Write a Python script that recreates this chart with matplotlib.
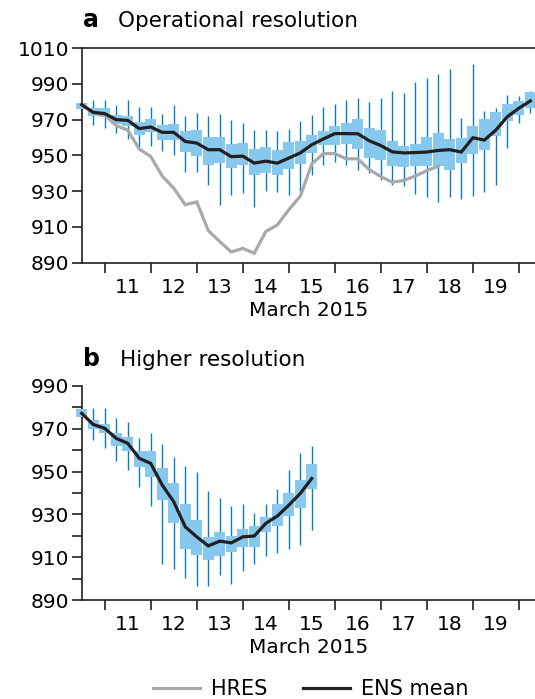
import matplotlib
matplotlib.use("Agg")
import matplotlib.pyplot as plt
from matplotlib.lines import Line2D
import numpy as np

plt.rcParams['font.family'] = ['DejaVu Sans']

# ---------------- data: panel a (operational resolution) ----------------
times_a = [10.5 + 0.25 * i for i in range(40)]
ens_mean_a = [978.4, 974.1, 973.4, 970.0, 969.6, 965.0, 965.9, 962.9, 962.9, 957.8,
              956.9, 953.2, 953.2, 949.3, 949.6, 945.7, 946.8, 945.7, 948.5, 951.4,
              956.0, 959.2, 962.2, 962.2, 962.1, 958.2, 955.5, 952.0, 951.4, 951.6,
              951.9, 952.8, 953.2, 951.9, 959.9, 958.6, 964.2, 971.7, 976.4, 980.5]
whis_hi_a = [979.3, 981.2, 981.2, 978.4, 981.2, 977.1, 977.1, 973.2, 978.4, 972.2,
             973.7, 972.0, 973.0, 970.0, 968.0, 964.5, 964.0, 963.5, 965.0, 969.1,
             972.8, 976.9, 979.0, 981.0, 982.0, 980.0, 982.0, 985.9, 984.9, 991.3,
             993.1, 995.5, 998.3, 970.9, 1001.0, 975.0, 976.8, 983.9, 983.0, 986.2]
q3_a = [979.3, 976.5, 976.5, 972.8, 971.9, 968.5, 970.4, 967.2, 967.8, 963.5,
        964.4, 960.2, 960.2, 956.3, 957.0, 953.6, 954.6, 953.2, 957.3, 957.9,
        961.6, 963.5, 966.3, 968.1, 970.4, 965.3, 964.4, 957.9, 955.4, 956.5,
        960.3, 962.3, 959.0, 960.0, 966.4, 970.1, 974.4, 978.5, 980.7, 985.5]
q1_a = [976.0, 972.2, 971.5, 967.8, 966.6, 961.6, 962.9, 958.4, 958.4, 951.7,
        949.4, 944.8, 945.7, 942.9, 944.8, 939.2, 940.0, 939.2, 942.6, 945.2,
        951.3, 956.0, 956.0, 956.4, 953.4, 948.5, 947.6, 944.0, 943.8, 944.0,
        944.0, 944.0, 942.0, 945.5, 950.8, 953.3, 960.7, 969.2, 972.8, 976.6]
whis_lo_a = [976.0, 967.0, 965.3, 962.5, 959.2, 953.2, 955.1, 952.2, 950.4, 941.0,
             941.0, 933.4, 922.4, 928.0, 929.0, 921.0, 930.3, 929.8, 928.0, 930.0,
             939.0, 944.8, 946.6, 944.8, 942.0, 940.1, 936.5, 933.6, 933.0, 928.4,
             926.6, 923.8, 926.6, 925.7, 927.5, 929.3, 933.6, 954.0, 968.3, 973.7]

times_hres = [10.5 + 0.25 * i for i in range(32)]
hres_a = [978.4, 974.0, 972.6, 966.7, 964.2, 953.6, 949.4, 938.4, 931.7, 922.4,
          924.0, 908.0, 901.8, 896.0, 898.0, 895.3, 907.4, 911.1, 919.6, 927.2,
          945.2, 951.0, 951.0, 948.1, 948.1, 942.0, 938.2, 935.0, 936.0, 938.5,
          941.5, 944.0]

# ---------------- data: panel b (higher resolution) ----------------
times_b = [10.5 + 0.25 * i for i in range(21)]
ens_mean_b = [977.2, 972.0, 970.2, 965.5, 963.2, 956.2, 953.8, 943.7, 935.9, 924.2,
              919.5, 915.3, 917.5, 916.7, 919.5, 919.9, 925.8, 929.2, 934.3, 939.8, 946.8]
whis_hi_b = [979.2, 979.8, 979.8, 974.8, 973.0, 965.8, 967.8, 962.7, 956.9, 952.7,
             949.6, 940.9, 937.8, 933.9, 934.8, 930.8, 934.8, 941.8, 950.7, 958.8, 961.9]
q3_b = [979.2, 974.1, 972.0, 968.1, 966.3, 959.6, 959.6, 951.5, 944.5, 934.7,
        927.6, 919.5, 921.6, 920.0, 923.1, 924.5, 928.6, 934.8, 940.1, 946.0, 953.5]
q1_b = [975.6, 969.7, 967.8, 962.1, 959.6, 952.3, 947.6, 936.5, 925.8, 913.6,
        911.0, 908.6, 910.5, 912.3, 914.9, 914.8, 921.6, 924.5, 929.4, 933.1, 941.7]
whis_lo_b = [975.6, 964.7, 960.8, 954.9, 950.7, 942.9, 933.9, 906.8, 904.7, 900.1,
             896.6, 896.6, 901.6, 897.7, 903.7, 906.8, 910.7, 911.8, 913.8, 915.7, 922.7]

day_ticks = list(range(11, 21))
day_labels = [str(d) for d in range(11, 20)]
day_label_pos = [d + 0.5 for d in range(11, 20)]

BOX = '#86c8ee'
WHISK = '#0a7cc6'
ENS = '#231f20'
HRES = '#a7a9ac'
FS = 14.5

fig = plt.figure(figsize=(5.35, 6.99), dpi=100)
axa = fig.add_axes([0.1527, 0.6242, 0.8473, 0.3069])
axb = fig.add_axes([0.1527, 0.1416, 0.8473, 0.3063])


def draw_panel(ax, t, lo, q1, q3, hi, mean, width=0.235):
    ax.vlines(t, lo, hi, color=WHISK, lw=1.0, zorder=2, clip_on=False)
    ax.bar(t, np.array(q3) - np.array(q1), bottom=q1, width=width,
           color=BOX, edgecolor='none', zorder=3, clip_on=False)
    ax.plot(t, mean, color=ENS, lw=2.3, zorder=5, clip_on=False,
            solid_joinstyle='miter')


def style(ax, ylim, yticks, minor=None):
    ax.set_xlim(10.5, 20.35)
    ax.set_ylim(*ylim)
    ax.spines['right'].set_visible(False)
    for s in ['left', 'bottom', 'top']:
        ax.spines[s].set_linewidth(1.2)
        ax.spines[s].set_color('#231f20')
    ax.set_xticks(day_ticks)
    ax.set_xticklabels([])
    ax.set_xticks(day_label_pos, minor=True)
    ax.set_xticklabels(day_labels, minor=True, fontsize=FS)
    ax.tick_params(axis='x', which='major', direction='out', length=7, width=1.2,
                   color='#231f20')
    ax.tick_params(axis='x', which='minor', length=0, pad=11)
    ax.set_yticks(yticks)
    ax.set_yticklabels([str(v) for v in yticks], fontsize=FS)
    if minor is not None:
        ax.set_yticks(minor, minor=True)
    ax.tick_params(axis='y', which='both', direction='out', length=7, width=1.2,
                   color='#231f20', pad=2)
    ax.set_xlabel('March 2015', fontsize=FS, labelpad=3)


draw_panel(axa, times_a, whis_lo_a, q1_a, q3_a, whis_hi_a, ens_mean_a)
axa.plot(times_hres, hres_a, color=HRES, lw=2.3, zorder=4, solid_joinstyle='miter')
style(axa, (890, 1010), list(range(890, 1011, 20)))

draw_panel(axb, times_b, whis_lo_b, q1_b, q3_b, whis_hi_b, ens_mean_b)
style(axb, (890, 990), list(range(890, 991, 20)), minor=list(range(900, 990, 20)))
axb.spines['top'].set_visible(False)

fig.text(0.155, 0.962, 'a', fontsize=17, fontweight='bold', va='baseline')
fig.text(0.22, 0.962, 'Operational resolution', fontsize=15.5, va='baseline')
fig.text(0.155, 0.476, 'b', fontsize=17, fontweight='bold', va='baseline')
fig.text(0.224, 0.476, 'Higher resolution', fontsize=15.5, va='baseline')

handles = [Line2D([], [], color=HRES, lw=2.3), Line2D([], [], color=ENS, lw=2.3)]
fig.legend(handles, ['HRES', 'ENS mean'], loc='center left',
           bbox_to_anchor=(153 / 535, 1 - 689 / 699),
           ncol=2, frameon=False, fontsize=15, handlelength=2.25, columnspacing=1.7,
           handletextpad=0.55, borderpad=0, borderaxespad=0)

fig.savefig('out.png', dpi=100)
